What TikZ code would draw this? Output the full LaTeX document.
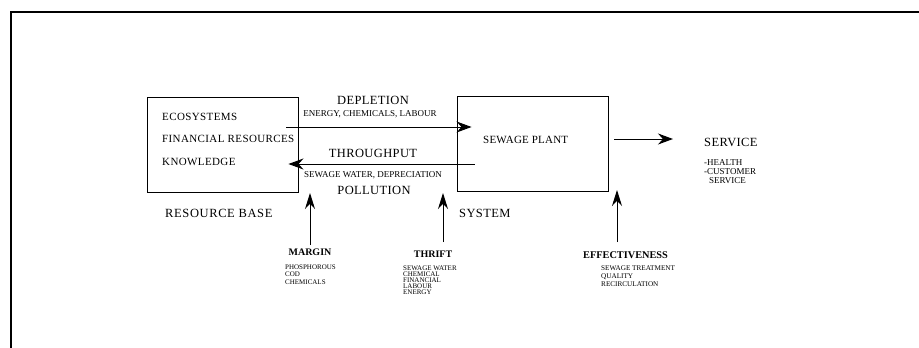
\documentclass[tikz,border=0pt]{standalone}
\usepackage{fontspec}
\setmainfont{Liberation Serif}
\usetikzlibrary{arrows.meta,calc}
\begin{document}
\begin{tikzpicture}[x=1pt,y=-1pt,
  box/.style={draw, line width=0.9pt, minimum width=151pt, minimum height=95pt, inner sep=0pt},
  arr/.style={-{Stealth[length=15pt,width=11pt]}, line width=1pt},
  varr/.style={-{Stealth[length=16pt,width=10pt]}, line width=1pt},
  lbl/.style={inner sep=0pt},
  big/.style={lbl, font=\fontsize{12.5}{14}\selectfont\addfontfeature{LetterSpace=3}},
  mid/.style={lbl, font=\fontsize{11}{13}\selectfont\addfontfeature{LetterSpace=3.5}},
  sml/.style={lbl, font=\fontsize{9}{10}\selectfont},
  bld/.style={lbl, font=\fontsize{10}{12}\selectfont\bfseries},
  tiny/.style={lbl, align=left, anchor=north west, font=\fontsize{7}{7.5}\selectfont}
]
\useasboundingbox (0,0) rectangle (919,348);
% outer frame (top and left edges only)
\draw[line width=1.6pt] (11,348) -- (11,12) -- (919,12);

% boxes
\node[box] (res) at (222.5,144.5) {};
\node[box] (sew) at (532.5,144) {};

% box texts
\node[mid, anchor=west] (eco) at (162,117) {ECOSYSTEMS};
\node[mid, anchor=west] (fin) at (162,139) {FINANCIAL RESOURCES};
\node[mid, anchor=west] (kno) at (162,162) {KNOWLEDGE};
\node[mid, anchor=west, font=\fontsize{11}{13}\selectfont\addfontfeature{LetterSpace=2}] (swp) at (483,140) {SEWAGE PLANT};

% flow labels
\node[big] (depl) at (373,100) {DEPLETION};
\node[sml] (ecl) at (370,114) {ENERGY, CHEMICALS, LABOUR};
\node[big] (thr) at (373,153) {THROUGHPUT};
\node[sml] (swd) at (373,175) {SEWAGE WATER, DEPRECIATION};
\node[big] (pol) at (374,190) {POLLUTION};

% horizontal arrows
\coordinate (t1) at ($(res.east)+(-12,-17.5)$);
\coordinate (t2) at ($(sew.west)+(15,-17)$);
\draw[arr] (t1) -- (t2);
\coordinate (b1) at ($(sew.west)+(18,20)$);
\coordinate (b2) at ($(res.east)+(-10,19.5)$);
\draw[arr] (b1) -- (b2);
\coordinate (s1) at ($(sew.east)+(6,-5)$);
\coordinate (s2) at (673,139);
\draw[arr] (s1) -- (s2);

% service
\node[big, anchor=west] (serv) at (704,142) {SERVICE};
\node[lbl, anchor=north west, align=left, font=\fontsize{9}{9}\selectfont] (servl) at (704,159.5)
  {-HEALTH\\-CUSTOMER\\\hspace*{5pt}SERVICE};

% base labels
\node[big, anchor=west, font=\fontsize{12.5}{14}\selectfont\addfontfeature{LetterSpace=5}] (rb) at (165,213) {RESOURCE BASE};
\node[big, anchor=west] (sys) at (459,213) {SYSTEM};

% vertical arrows
\coordinate (m1) at (310,245);
\coordinate (m2) at (310,193);
\draw[varr] (m1) -- (m2);
\coordinate (h1) at (443,242);
\coordinate (h2) at (443,193);
\draw[varr] (h1) -- (h2);
\coordinate (e1) at (617,242);
\coordinate (e2) at (617,190);
\draw[varr] (e1) -- (e2);

% bottom labels
\node[bld] (marg) at (310,252) {MARGIN};
\node[tiny] (margl) at (285,264.5) {PHOSPHOROUS\\COD\\CHEMICALS};
\node[bld] (thri) at (433,254) {THRIFT};
\node[tiny, font=\fontsize{7}{6}\selectfont] (thril) at (403,265.5) {SEWAGE WATER\\CHEMICAL\\FINANCIAL\\LABOUR\\ENERGY};
\node[bld, anchor=west, font=\fontsize{10.3}{12}\selectfont\bfseries] (eff) at (583,255) {EFFECTIVENESS};
\node[tiny, font=\fontsize{7.2}{7.8}\selectfont] (effl) at (601,265.5) {SEWAGE TREATMENT\\QUALITY\\RECIRCULATION};
\end{tikzpicture}
\end{document}
